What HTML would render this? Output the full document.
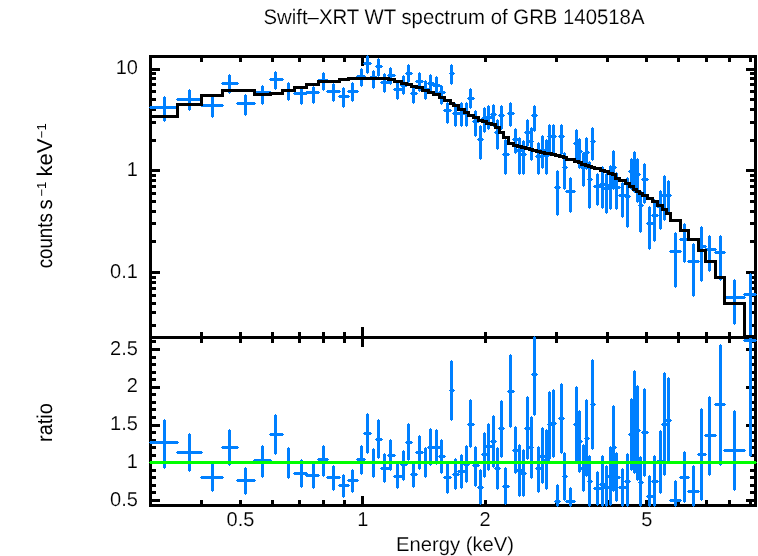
<!DOCTYPE html>
<html lang="en"><head><meta charset="utf-8"><title>Swift-XRT WT spectrum of GRB 140518A</title>
<style>
html,body{margin:0;padding:0;background:#fff;}
svg{display:block;}
text{font-family:"Liberation Sans",Arial,Helvetica,sans-serif;font-size:20px;fill:#000;stroke:#fff;stroke-width:0.15px;text-rendering:geometricPrecision;}
text.v{stroke:none;}
text.vs{stroke:none;}
</style></head><body>
<svg width="758" height="556" viewBox="0 0 758 556">
<rect x="0" y="0" width="758" height="556" fill="#fff"/>
<g shape-rendering="crispEdges">
<rect x="149" y="55" width="3" height="452" fill="#000"/>
<rect x="754" y="55" width="3" height="452" fill="#000"/>
<rect x="149" y="55" width="608" height="3" fill="#000"/>
<rect x="149" y="336" width="608" height="3" fill="#000"/>
<rect x="149" y="504" width="608" height="3" fill="#000"/>
<rect x="361" y="58" width="3" height="8" fill="#000"/>
<rect x="361" y="327" width="3" height="20" fill="#000"/>
<rect x="361" y="496" width="3" height="8" fill="#000"/>
<rect x="200" y="58" width="3" height="4" fill="#000"/>
<rect x="200" y="332" width="3" height="11" fill="#000"/>
<rect x="200" y="500" width="3" height="4" fill="#000"/>
<rect x="239" y="58" width="3" height="4" fill="#000"/>
<rect x="239" y="332" width="3" height="11" fill="#000"/>
<rect x="239" y="500" width="3" height="4" fill="#000"/>
<rect x="271" y="58" width="3" height="4" fill="#000"/>
<rect x="271" y="332" width="3" height="11" fill="#000"/>
<rect x="271" y="500" width="3" height="4" fill="#000"/>
<rect x="298" y="58" width="3" height="4" fill="#000"/>
<rect x="298" y="332" width="3" height="11" fill="#000"/>
<rect x="298" y="500" width="3" height="4" fill="#000"/>
<rect x="322" y="58" width="3" height="4" fill="#000"/>
<rect x="322" y="332" width="3" height="11" fill="#000"/>
<rect x="322" y="500" width="3" height="4" fill="#000"/>
<rect x="343" y="58" width="3" height="4" fill="#000"/>
<rect x="343" y="332" width="3" height="11" fill="#000"/>
<rect x="343" y="500" width="3" height="4" fill="#000"/>
<rect x="484" y="58" width="3" height="4" fill="#000"/>
<rect x="484" y="332" width="3" height="11" fill="#000"/>
<rect x="484" y="500" width="3" height="4" fill="#000"/>
<rect x="555" y="58" width="3" height="4" fill="#000"/>
<rect x="555" y="332" width="3" height="11" fill="#000"/>
<rect x="555" y="500" width="3" height="4" fill="#000"/>
<rect x="606" y="58" width="3" height="4" fill="#000"/>
<rect x="606" y="332" width="3" height="11" fill="#000"/>
<rect x="606" y="500" width="3" height="4" fill="#000"/>
<rect x="645" y="58" width="3" height="4" fill="#000"/>
<rect x="645" y="332" width="3" height="11" fill="#000"/>
<rect x="645" y="500" width="3" height="4" fill="#000"/>
<rect x="677" y="58" width="3" height="4" fill="#000"/>
<rect x="677" y="332" width="3" height="11" fill="#000"/>
<rect x="677" y="500" width="3" height="4" fill="#000"/>
<rect x="705" y="58" width="3" height="4" fill="#000"/>
<rect x="705" y="332" width="3" height="11" fill="#000"/>
<rect x="705" y="500" width="3" height="4" fill="#000"/>
<rect x="728" y="58" width="3" height="4" fill="#000"/>
<rect x="728" y="332" width="3" height="11" fill="#000"/>
<rect x="728" y="500" width="3" height="4" fill="#000"/>
<rect x="749" y="58" width="3" height="4" fill="#000"/>
<rect x="749" y="332" width="3" height="11" fill="#000"/>
<rect x="749" y="500" width="3" height="4" fill="#000"/>
<rect x="152" y="324" width="4" height="3" fill="#000"/>
<rect x="750" y="324" width="4" height="3" fill="#000"/>
<rect x="152" y="311" width="4" height="3" fill="#000"/>
<rect x="750" y="311" width="4" height="3" fill="#000"/>
<rect x="152" y="302" width="4" height="3" fill="#000"/>
<rect x="750" y="302" width="4" height="3" fill="#000"/>
<rect x="152" y="294" width="4" height="3" fill="#000"/>
<rect x="750" y="294" width="4" height="3" fill="#000"/>
<rect x="152" y="287" width="4" height="3" fill="#000"/>
<rect x="750" y="287" width="4" height="3" fill="#000"/>
<rect x="152" y="281" width="4" height="3" fill="#000"/>
<rect x="750" y="281" width="4" height="3" fill="#000"/>
<rect x="152" y="276" width="4" height="3" fill="#000"/>
<rect x="750" y="276" width="4" height="3" fill="#000"/>
<rect x="152" y="271" width="8" height="3" fill="#000"/>
<rect x="746" y="271" width="8" height="3" fill="#000"/>
<rect x="152" y="240" width="4" height="3" fill="#000"/>
<rect x="750" y="240" width="4" height="3" fill="#000"/>
<rect x="152" y="222" width="4" height="3" fill="#000"/>
<rect x="750" y="222" width="4" height="3" fill="#000"/>
<rect x="152" y="210" width="4" height="3" fill="#000"/>
<rect x="750" y="210" width="4" height="3" fill="#000"/>
<rect x="152" y="200" width="4" height="3" fill="#000"/>
<rect x="750" y="200" width="4" height="3" fill="#000"/>
<rect x="152" y="192" width="4" height="3" fill="#000"/>
<rect x="750" y="192" width="4" height="3" fill="#000"/>
<rect x="152" y="185" width="4" height="3" fill="#000"/>
<rect x="750" y="185" width="4" height="3" fill="#000"/>
<rect x="152" y="179" width="4" height="3" fill="#000"/>
<rect x="750" y="179" width="4" height="3" fill="#000"/>
<rect x="152" y="174" width="4" height="3" fill="#000"/>
<rect x="750" y="174" width="4" height="3" fill="#000"/>
<rect x="152" y="169" width="8" height="3" fill="#000"/>
<rect x="746" y="169" width="8" height="3" fill="#000"/>
<rect x="152" y="139" width="4" height="3" fill="#000"/>
<rect x="750" y="139" width="4" height="3" fill="#000"/>
<rect x="152" y="121" width="4" height="3" fill="#000"/>
<rect x="750" y="121" width="4" height="3" fill="#000"/>
<rect x="152" y="108" width="4" height="3" fill="#000"/>
<rect x="750" y="108" width="4" height="3" fill="#000"/>
<rect x="152" y="98" width="4" height="3" fill="#000"/>
<rect x="750" y="98" width="4" height="3" fill="#000"/>
<rect x="152" y="90" width="4" height="3" fill="#000"/>
<rect x="750" y="90" width="4" height="3" fill="#000"/>
<rect x="152" y="83" width="4" height="3" fill="#000"/>
<rect x="750" y="83" width="4" height="3" fill="#000"/>
<rect x="152" y="77" width="4" height="3" fill="#000"/>
<rect x="750" y="77" width="4" height="3" fill="#000"/>
<rect x="152" y="72" width="4" height="3" fill="#000"/>
<rect x="750" y="72" width="4" height="3" fill="#000"/>
<rect x="152" y="68" width="8" height="3" fill="#000"/>
<rect x="746" y="68" width="8" height="3" fill="#000"/>
<rect x="152" y="499" width="8" height="3" fill="#000"/>
<rect x="746" y="499" width="8" height="3" fill="#000"/>
<rect x="152" y="491" width="4" height="3" fill="#000"/>
<rect x="750" y="491" width="4" height="3" fill="#000"/>
<rect x="152" y="484" width="4" height="3" fill="#000"/>
<rect x="750" y="484" width="4" height="3" fill="#000"/>
<rect x="152" y="476" width="4" height="3" fill="#000"/>
<rect x="750" y="476" width="4" height="3" fill="#000"/>
<rect x="152" y="469" width="4" height="3" fill="#000"/>
<rect x="750" y="469" width="4" height="3" fill="#000"/>
<rect x="152" y="461" width="8" height="3" fill="#000"/>
<rect x="746" y="461" width="8" height="3" fill="#000"/>
<rect x="152" y="454" width="4" height="3" fill="#000"/>
<rect x="750" y="454" width="4" height="3" fill="#000"/>
<rect x="152" y="446" width="4" height="3" fill="#000"/>
<rect x="750" y="446" width="4" height="3" fill="#000"/>
<rect x="152" y="439" width="4" height="3" fill="#000"/>
<rect x="750" y="439" width="4" height="3" fill="#000"/>
<rect x="152" y="431" width="4" height="3" fill="#000"/>
<rect x="750" y="431" width="4" height="3" fill="#000"/>
<rect x="152" y="424" width="8" height="3" fill="#000"/>
<rect x="746" y="424" width="8" height="3" fill="#000"/>
<rect x="152" y="416" width="4" height="3" fill="#000"/>
<rect x="750" y="416" width="4" height="3" fill="#000"/>
<rect x="152" y="408" width="4" height="3" fill="#000"/>
<rect x="750" y="408" width="4" height="3" fill="#000"/>
<rect x="152" y="401" width="4" height="3" fill="#000"/>
<rect x="750" y="401" width="4" height="3" fill="#000"/>
<rect x="152" y="393" width="4" height="3" fill="#000"/>
<rect x="750" y="393" width="4" height="3" fill="#000"/>
<rect x="152" y="386" width="8" height="3" fill="#000"/>
<rect x="746" y="386" width="8" height="3" fill="#000"/>
<rect x="152" y="378" width="4" height="3" fill="#000"/>
<rect x="750" y="378" width="4" height="3" fill="#000"/>
<rect x="152" y="371" width="4" height="3" fill="#000"/>
<rect x="750" y="371" width="4" height="3" fill="#000"/>
<rect x="152" y="363" width="4" height="3" fill="#000"/>
<rect x="750" y="363" width="4" height="3" fill="#000"/>
<rect x="152" y="356" width="4" height="3" fill="#000"/>
<rect x="750" y="356" width="4" height="3" fill="#000"/>
<rect x="152" y="348" width="8" height="3" fill="#000"/>
<rect x="746" y="348" width="8" height="3" fill="#000"/>
<rect x="152" y="340" width="4" height="3" fill="#000"/>
<rect x="750" y="340" width="4" height="3" fill="#000"/>
<rect x="150" y="106" width="28" height="3" fill="#0080ff"/>
<rect x="149" y="107" width="30" height="1" fill="#0080ff"/>
<rect x="163" y="97" width="3" height="24" fill="#0080ff"/>
<rect x="164" y="96" width="1" height="26" fill="#0080ff"/>
<rect x="177" y="98" width="25" height="3" fill="#0080ff"/>
<rect x="176" y="99" width="27" height="1" fill="#0080ff"/>
<rect x="188" y="90" width="3" height="20" fill="#0080ff"/>
<rect x="189" y="89" width="1" height="22" fill="#0080ff"/>
<rect x="201" y="104" width="22" height="3" fill="#0080ff"/>
<rect x="200" y="105" width="24" height="1" fill="#0080ff"/>
<rect x="211" y="97" width="3" height="20" fill="#0080ff"/>
<rect x="212" y="96" width="1" height="22" fill="#0080ff"/>
<rect x="222" y="82" width="16" height="3" fill="#0080ff"/>
<rect x="221" y="83" width="18" height="1" fill="#0080ff"/>
<rect x="228" y="75" width="3" height="18" fill="#0080ff"/>
<rect x="229" y="74" width="1" height="20" fill="#0080ff"/>
<rect x="237" y="102" width="18" height="3" fill="#0080ff"/>
<rect x="236" y="103" width="20" height="1" fill="#0080ff"/>
<rect x="244" y="95" width="3" height="20" fill="#0080ff"/>
<rect x="245" y="94" width="1" height="22" fill="#0080ff"/>
<rect x="254" y="91" width="17" height="3" fill="#0080ff"/>
<rect x="253" y="92" width="19" height="1" fill="#0080ff"/>
<rect x="261" y="86" width="3" height="18" fill="#0080ff"/>
<rect x="262" y="85" width="1" height="20" fill="#0080ff"/>
<rect x="270" y="78" width="13" height="3" fill="#0080ff"/>
<rect x="269" y="79" width="15" height="1" fill="#0080ff"/>
<rect x="274" y="72" width="3" height="17" fill="#0080ff"/>
<rect x="275" y="71" width="1" height="19" fill="#0080ff"/>
<rect x="282" y="89" width="13" height="3" fill="#0080ff"/>
<rect x="281" y="90" width="15" height="1" fill="#0080ff"/>
<rect x="287" y="83" width="3" height="17" fill="#0080ff"/>
<rect x="288" y="82" width="1" height="19" fill="#0080ff"/>
<rect x="294" y="92" width="13" height="3" fill="#0080ff"/>
<rect x="293" y="93" width="15" height="1" fill="#0080ff"/>
<rect x="300" y="87" width="3" height="17" fill="#0080ff"/>
<rect x="301" y="86" width="1" height="19" fill="#0080ff"/>
<rect x="306" y="91" width="13" height="3" fill="#0080ff"/>
<rect x="305" y="92" width="15" height="1" fill="#0080ff"/>
<rect x="312" y="87" width="3" height="16" fill="#0080ff"/>
<rect x="313" y="86" width="1" height="18" fill="#0080ff"/>
<rect x="318" y="79" width="10" height="3" fill="#0080ff"/>
<rect x="317" y="80" width="12" height="1" fill="#0080ff"/>
<rect x="322" y="73" width="3" height="17" fill="#0080ff"/>
<rect x="323" y="72" width="1" height="19" fill="#0080ff"/>
<rect x="327" y="90" width="13" height="3" fill="#0080ff"/>
<rect x="326" y="91" width="15" height="1" fill="#0080ff"/>
<rect x="332" y="84" width="3" height="17" fill="#0080ff"/>
<rect x="333" y="83" width="1" height="19" fill="#0080ff"/>
<rect x="339" y="95" width="10" height="3" fill="#0080ff"/>
<rect x="338" y="96" width="12" height="1" fill="#0080ff"/>
<rect x="342" y="88" width="3" height="19" fill="#0080ff"/>
<rect x="343" y="87" width="1" height="21" fill="#0080ff"/>
<rect x="348" y="90" width="10" height="3" fill="#0080ff"/>
<rect x="347" y="91" width="12" height="1" fill="#0080ff"/>
<rect x="351" y="83" width="3" height="18" fill="#0080ff"/>
<rect x="352" y="82" width="1" height="20" fill="#0080ff"/>
<rect x="357" y="75" width="8" height="3" fill="#0080ff"/>
<rect x="356" y="76" width="10" height="1" fill="#0080ff"/>
<rect x="360" y="69" width="3" height="17" fill="#0080ff"/>
<rect x="361" y="68" width="1" height="19" fill="#0080ff"/>
<rect x="364" y="62" width="7" height="3" fill="#0080ff"/>
<rect x="363" y="63" width="9" height="1" fill="#0080ff"/>
<rect x="366" y="56" width="3" height="17" fill="#0080ff"/>
<rect x="367" y="55" width="1" height="19" fill="#0080ff"/>
<rect x="370" y="76" width="7" height="3" fill="#0080ff"/>
<rect x="369" y="77" width="9" height="1" fill="#0080ff"/>
<rect x="372" y="71" width="3" height="17" fill="#0080ff"/>
<rect x="373" y="70" width="1" height="19" fill="#0080ff"/>
<rect x="376" y="65" width="6" height="3" fill="#0080ff"/>
<rect x="375" y="66" width="8" height="1" fill="#0080ff"/>
<rect x="377" y="59" width="3" height="17" fill="#0080ff"/>
<rect x="378" y="58" width="1" height="19" fill="#0080ff"/>
<rect x="381" y="81" width="8" height="3" fill="#0080ff"/>
<rect x="380" y="82" width="10" height="1" fill="#0080ff"/>
<rect x="383" y="74" width="3" height="18" fill="#0080ff"/>
<rect x="384" y="73" width="1" height="20" fill="#0080ff"/>
<rect x="388" y="74" width="7" height="3" fill="#0080ff"/>
<rect x="387" y="75" width="9" height="1" fill="#0080ff"/>
<rect x="389" y="68" width="3" height="16" fill="#0080ff"/>
<rect x="390" y="67" width="1" height="18" fill="#0080ff"/>
<rect x="394" y="88" width="8" height="3" fill="#0080ff"/>
<rect x="393" y="89" width="10" height="1" fill="#0080ff"/>
<rect x="396" y="83" width="3" height="16" fill="#0080ff"/>
<rect x="397" y="82" width="1" height="18" fill="#0080ff"/>
<rect x="401" y="84" width="6" height="3" fill="#0080ff"/>
<rect x="400" y="85" width="8" height="1" fill="#0080ff"/>
<rect x="402" y="76" width="3" height="18" fill="#0080ff"/>
<rect x="403" y="75" width="1" height="20" fill="#0080ff"/>
<rect x="406" y="72" width="6" height="3" fill="#0080ff"/>
<rect x="405" y="73" width="8" height="1" fill="#0080ff"/>
<rect x="407" y="65" width="3" height="17" fill="#0080ff"/>
<rect x="408" y="64" width="1" height="19" fill="#0080ff"/>
<rect x="411" y="92" width="6" height="3" fill="#0080ff"/>
<rect x="410" y="93" width="8" height="1" fill="#0080ff"/>
<rect x="412" y="87" width="3" height="16" fill="#0080ff"/>
<rect x="413" y="86" width="1" height="18" fill="#0080ff"/>
<rect x="416" y="80" width="7" height="3" fill="#0080ff"/>
<rect x="415" y="81" width="9" height="1" fill="#0080ff"/>
<rect x="418" y="73" width="3" height="18" fill="#0080ff"/>
<rect x="419" y="72" width="1" height="20" fill="#0080ff"/>
<rect x="422" y="88" width="7" height="3" fill="#0080ff"/>
<rect x="421" y="89" width="9" height="1" fill="#0080ff"/>
<rect x="424" y="81" width="3" height="18" fill="#0080ff"/>
<rect x="425" y="80" width="1" height="20" fill="#0080ff"/>
<rect x="428" y="82" width="6" height="3" fill="#0080ff"/>
<rect x="427" y="83" width="8" height="1" fill="#0080ff"/>
<rect x="429" y="75" width="3" height="17" fill="#0080ff"/>
<rect x="430" y="74" width="1" height="19" fill="#0080ff"/>
<rect x="433" y="84" width="7" height="3" fill="#0080ff"/>
<rect x="432" y="85" width="9" height="1" fill="#0080ff"/>
<rect x="435" y="77" width="3" height="17" fill="#0080ff"/>
<rect x="436" y="76" width="1" height="19" fill="#0080ff"/>
<rect x="439" y="91" width="6" height="3" fill="#0080ff"/>
<rect x="438" y="92" width="8" height="1" fill="#0080ff"/>
<rect x="440" y="86" width="3" height="18" fill="#0080ff"/>
<rect x="441" y="85" width="1" height="20" fill="#0080ff"/>
<rect x="444" y="109" width="7" height="3" fill="#0080ff"/>
<rect x="443" y="110" width="9" height="1" fill="#0080ff"/>
<rect x="446" y="103" width="3" height="20" fill="#0080ff"/>
<rect x="447" y="102" width="1" height="22" fill="#0080ff"/>
<rect x="450" y="72" width="4" height="3" fill="#0080ff"/>
<rect x="449" y="73" width="6" height="1" fill="#0080ff"/>
<rect x="450" y="65" width="3" height="19" fill="#0080ff"/>
<rect x="451" y="64" width="1" height="21" fill="#0080ff"/>
<rect x="453" y="112" width="6" height="3" fill="#0080ff"/>
<rect x="452" y="113" width="8" height="1" fill="#0080ff"/>
<rect x="454" y="104" width="3" height="22" fill="#0080ff"/>
<rect x="455" y="103" width="1" height="24" fill="#0080ff"/>
<rect x="458" y="112" width="7" height="3" fill="#0080ff"/>
<rect x="457" y="113" width="9" height="1" fill="#0080ff"/>
<rect x="460" y="103" width="3" height="23" fill="#0080ff"/>
<rect x="461" y="102" width="1" height="25" fill="#0080ff"/>
<rect x="464" y="112" width="5" height="3" fill="#0080ff"/>
<rect x="463" y="113" width="7" height="1" fill="#0080ff"/>
<rect x="465" y="103" width="3" height="23" fill="#0080ff"/>
<rect x="466" y="102" width="1" height="25" fill="#0080ff"/>
<rect x="468" y="97" width="6" height="3" fill="#0080ff"/>
<rect x="467" y="98" width="8" height="1" fill="#0080ff"/>
<rect x="469" y="89" width="3" height="19" fill="#0080ff"/>
<rect x="470" y="88" width="1" height="21" fill="#0080ff"/>
<rect x="473" y="120" width="6" height="3" fill="#0080ff"/>
<rect x="472" y="121" width="8" height="1" fill="#0080ff"/>
<rect x="474" y="111" width="3" height="25" fill="#0080ff"/>
<rect x="475" y="110" width="1" height="27" fill="#0080ff"/>
<rect x="478" y="138" width="5" height="3" fill="#0080ff"/>
<rect x="477" y="139" width="7" height="1" fill="#0080ff"/>
<rect x="479" y="126" width="3" height="33" fill="#0080ff"/>
<rect x="480" y="125" width="1" height="35" fill="#0080ff"/>
<rect x="482" y="117" width="5" height="3" fill="#0080ff"/>
<rect x="481" y="118" width="7" height="1" fill="#0080ff"/>
<rect x="483" y="108" width="3" height="24" fill="#0080ff"/>
<rect x="484" y="107" width="1" height="26" fill="#0080ff"/>
<rect x="486" y="116" width="6" height="3" fill="#0080ff"/>
<rect x="485" y="117" width="8" height="1" fill="#0080ff"/>
<rect x="487" y="106" width="3" height="23" fill="#0080ff"/>
<rect x="488" y="105" width="1" height="25" fill="#0080ff"/>
<rect x="491" y="113" width="5" height="3" fill="#0080ff"/>
<rect x="490" y="114" width="7" height="1" fill="#0080ff"/>
<rect x="492" y="105" width="3" height="21" fill="#0080ff"/>
<rect x="493" y="104" width="1" height="23" fill="#0080ff"/>
<rect x="495" y="131" width="5" height="3" fill="#0080ff"/>
<rect x="494" y="132" width="7" height="1" fill="#0080ff"/>
<rect x="496" y="120" width="3" height="29" fill="#0080ff"/>
<rect x="497" y="119" width="1" height="31" fill="#0080ff"/>
<rect x="499" y="114" width="5" height="3" fill="#0080ff"/>
<rect x="498" y="115" width="7" height="1" fill="#0080ff"/>
<rect x="500" y="106" width="3" height="23" fill="#0080ff"/>
<rect x="501" y="105" width="1" height="25" fill="#0080ff"/>
<rect x="503" y="153" width="6" height="3" fill="#0080ff"/>
<rect x="502" y="154" width="8" height="1" fill="#0080ff"/>
<rect x="504" y="140" width="3" height="34" fill="#0080ff"/>
<rect x="505" y="139" width="1" height="36" fill="#0080ff"/>
<rect x="508" y="112" width="6" height="3" fill="#0080ff"/>
<rect x="507" y="113" width="8" height="1" fill="#0080ff"/>
<rect x="509" y="103" width="3" height="23" fill="#0080ff"/>
<rect x="510" y="102" width="1" height="25" fill="#0080ff"/>
<rect x="513" y="138" width="5" height="3" fill="#0080ff"/>
<rect x="512" y="139" width="7" height="1" fill="#0080ff"/>
<rect x="514" y="129" width="3" height="24" fill="#0080ff"/>
<rect x="515" y="128" width="1" height="26" fill="#0080ff"/>
<rect x="517" y="149" width="5" height="3" fill="#0080ff"/>
<rect x="516" y="150" width="7" height="1" fill="#0080ff"/>
<rect x="518" y="138" width="3" height="36" fill="#0080ff"/>
<rect x="519" y="137" width="1" height="38" fill="#0080ff"/>
<rect x="521" y="153" width="5" height="3" fill="#0080ff"/>
<rect x="520" y="154" width="7" height="1" fill="#0080ff"/>
<rect x="522" y="141" width="3" height="33" fill="#0080ff"/>
<rect x="523" y="140" width="1" height="35" fill="#0080ff"/>
<rect x="525" y="131" width="5" height="3" fill="#0080ff"/>
<rect x="524" y="132" width="7" height="1" fill="#0080ff"/>
<rect x="526" y="120" width="3" height="26" fill="#0080ff"/>
<rect x="527" y="119" width="1" height="28" fill="#0080ff"/>
<rect x="529" y="140" width="4" height="3" fill="#0080ff"/>
<rect x="528" y="141" width="6" height="1" fill="#0080ff"/>
<rect x="530" y="128" width="3" height="32" fill="#0080ff"/>
<rect x="531" y="127" width="1" height="34" fill="#0080ff"/>
<rect x="532" y="114" width="5" height="3" fill="#0080ff"/>
<rect x="531" y="115" width="7" height="1" fill="#0080ff"/>
<rect x="533" y="106" width="3" height="25" fill="#0080ff"/>
<rect x="534" y="105" width="1" height="27" fill="#0080ff"/>
<rect x="536" y="155" width="5" height="3" fill="#0080ff"/>
<rect x="535" y="156" width="7" height="1" fill="#0080ff"/>
<rect x="537" y="143" width="3" height="31" fill="#0080ff"/>
<rect x="538" y="142" width="1" height="33" fill="#0080ff"/>
<rect x="540" y="149" width="5" height="3" fill="#0080ff"/>
<rect x="539" y="150" width="7" height="1" fill="#0080ff"/>
<rect x="541" y="136" width="3" height="32" fill="#0080ff"/>
<rect x="542" y="135" width="1" height="34" fill="#0080ff"/>
<rect x="544" y="154" width="5" height="3" fill="#0080ff"/>
<rect x="543" y="155" width="7" height="1" fill="#0080ff"/>
<rect x="545" y="140" width="3" height="34" fill="#0080ff"/>
<rect x="546" y="139" width="1" height="36" fill="#0080ff"/>
<rect x="548" y="135" width="4" height="3" fill="#0080ff"/>
<rect x="547" y="136" width="6" height="1" fill="#0080ff"/>
<rect x="548" y="125" width="3" height="30" fill="#0080ff"/>
<rect x="549" y="124" width="1" height="32" fill="#0080ff"/>
<rect x="551" y="135" width="5" height="3" fill="#0080ff"/>
<rect x="550" y="136" width="7" height="1" fill="#0080ff"/>
<rect x="552" y="125" width="3" height="29" fill="#0080ff"/>
<rect x="553" y="124" width="1" height="31" fill="#0080ff"/>
<rect x="555" y="186" width="5" height="3" fill="#0080ff"/>
<rect x="554" y="187" width="7" height="1" fill="#0080ff"/>
<rect x="556" y="171" width="3" height="44" fill="#0080ff"/>
<rect x="557" y="170" width="1" height="46" fill="#0080ff"/>
<rect x="559" y="135" width="5" height="3" fill="#0080ff"/>
<rect x="558" y="136" width="7" height="1" fill="#0080ff"/>
<rect x="560" y="125" width="3" height="29" fill="#0080ff"/>
<rect x="561" y="124" width="1" height="31" fill="#0080ff"/>
<rect x="563" y="166" width="4" height="3" fill="#0080ff"/>
<rect x="562" y="167" width="6" height="1" fill="#0080ff"/>
<rect x="563" y="153" width="3" height="36" fill="#0080ff"/>
<rect x="564" y="152" width="1" height="38" fill="#0080ff"/>
<rect x="566" y="190" width="9" height="3" fill="#0080ff"/>
<rect x="565" y="191" width="11" height="1" fill="#0080ff"/>
<rect x="569" y="178" width="3" height="34" fill="#0080ff"/>
<rect x="570" y="177" width="1" height="36" fill="#0080ff"/>
<rect x="574" y="142" width="5" height="3" fill="#0080ff"/>
<rect x="573" y="143" width="7" height="1" fill="#0080ff"/>
<rect x="575" y="130" width="3" height="30" fill="#0080ff"/>
<rect x="576" y="129" width="1" height="32" fill="#0080ff"/>
<rect x="578" y="150" width="4" height="3" fill="#0080ff"/>
<rect x="577" y="151" width="6" height="1" fill="#0080ff"/>
<rect x="578" y="139" width="3" height="29" fill="#0080ff"/>
<rect x="579" y="138" width="1" height="31" fill="#0080ff"/>
<rect x="581" y="166" width="5" height="3" fill="#0080ff"/>
<rect x="580" y="167" width="7" height="1" fill="#0080ff"/>
<rect x="582" y="153" width="3" height="33" fill="#0080ff"/>
<rect x="583" y="152" width="1" height="35" fill="#0080ff"/>
<rect x="585" y="151" width="4" height="3" fill="#0080ff"/>
<rect x="584" y="152" width="6" height="1" fill="#0080ff"/>
<rect x="585" y="138" width="3" height="31" fill="#0080ff"/>
<rect x="586" y="137" width="1" height="33" fill="#0080ff"/>
<rect x="588" y="178" width="4" height="3" fill="#0080ff"/>
<rect x="587" y="179" width="6" height="1" fill="#0080ff"/>
<rect x="588" y="162" width="3" height="46" fill="#0080ff"/>
<rect x="589" y="161" width="1" height="48" fill="#0080ff"/>
<rect x="591" y="140" width="4" height="3" fill="#0080ff"/>
<rect x="590" y="141" width="6" height="1" fill="#0080ff"/>
<rect x="591" y="128" width="3" height="32" fill="#0080ff"/>
<rect x="592" y="127" width="1" height="34" fill="#0080ff"/>
<rect x="594" y="185" width="7" height="3" fill="#0080ff"/>
<rect x="593" y="186" width="9" height="1" fill="#0080ff"/>
<rect x="596" y="174" width="3" height="31" fill="#0080ff"/>
<rect x="597" y="173" width="1" height="33" fill="#0080ff"/>
<rect x="600" y="183" width="5" height="3" fill="#0080ff"/>
<rect x="599" y="184" width="7" height="1" fill="#0080ff"/>
<rect x="601" y="167" width="3" height="41" fill="#0080ff"/>
<rect x="602" y="166" width="1" height="43" fill="#0080ff"/>
<rect x="604" y="187" width="5" height="3" fill="#0080ff"/>
<rect x="603" y="188" width="7" height="1" fill="#0080ff"/>
<rect x="605" y="174" width="3" height="39" fill="#0080ff"/>
<rect x="606" y="173" width="1" height="41" fill="#0080ff"/>
<rect x="608" y="184" width="5" height="3" fill="#0080ff"/>
<rect x="607" y="185" width="7" height="1" fill="#0080ff"/>
<rect x="609" y="166" width="3" height="43" fill="#0080ff"/>
<rect x="610" y="165" width="1" height="45" fill="#0080ff"/>
<rect x="612" y="166" width="4" height="3" fill="#0080ff"/>
<rect x="611" y="167" width="6" height="1" fill="#0080ff"/>
<rect x="612" y="151" width="3" height="38" fill="#0080ff"/>
<rect x="613" y="150" width="1" height="40" fill="#0080ff"/>
<rect x="615" y="186" width="5" height="3" fill="#0080ff"/>
<rect x="614" y="187" width="7" height="1" fill="#0080ff"/>
<rect x="615" y="173" width="3" height="36" fill="#0080ff"/>
<rect x="616" y="172" width="1" height="38" fill="#0080ff"/>
<rect x="619" y="194" width="7" height="3" fill="#0080ff"/>
<rect x="618" y="195" width="9" height="1" fill="#0080ff"/>
<rect x="621" y="183" width="3" height="34" fill="#0080ff"/>
<rect x="622" y="182" width="1" height="36" fill="#0080ff"/>
<rect x="625" y="195" width="5" height="3" fill="#0080ff"/>
<rect x="624" y="196" width="7" height="1" fill="#0080ff"/>
<rect x="626" y="178" width="3" height="49" fill="#0080ff"/>
<rect x="627" y="177" width="1" height="51" fill="#0080ff"/>
<rect x="629" y="170" width="5" height="3" fill="#0080ff"/>
<rect x="628" y="171" width="7" height="1" fill="#0080ff"/>
<rect x="630" y="159" width="3" height="30" fill="#0080ff"/>
<rect x="631" y="158" width="1" height="32" fill="#0080ff"/>
<rect x="633" y="170" width="4" height="3" fill="#0080ff"/>
<rect x="632" y="171" width="6" height="1" fill="#0080ff"/>
<rect x="633" y="152" width="3" height="40" fill="#0080ff"/>
<rect x="634" y="151" width="1" height="42" fill="#0080ff"/>
<rect x="636" y="173" width="4" height="3" fill="#0080ff"/>
<rect x="635" y="174" width="6" height="1" fill="#0080ff"/>
<rect x="636" y="159" width="3" height="43" fill="#0080ff"/>
<rect x="637" y="158" width="1" height="45" fill="#0080ff"/>
<rect x="639" y="204" width="4" height="3" fill="#0080ff"/>
<rect x="638" y="205" width="6" height="1" fill="#0080ff"/>
<rect x="639" y="191" width="3" height="41" fill="#0080ff"/>
<rect x="640" y="190" width="1" height="43" fill="#0080ff"/>
<rect x="642" y="178" width="6" height="3" fill="#0080ff"/>
<rect x="641" y="179" width="8" height="1" fill="#0080ff"/>
<rect x="643" y="164" width="3" height="39" fill="#0080ff"/>
<rect x="644" y="163" width="1" height="41" fill="#0080ff"/>
<rect x="647" y="222" width="6" height="3" fill="#0080ff"/>
<rect x="646" y="223" width="8" height="1" fill="#0080ff"/>
<rect x="648" y="207" width="3" height="42" fill="#0080ff"/>
<rect x="649" y="206" width="1" height="44" fill="#0080ff"/>
<rect x="652" y="214" width="6" height="3" fill="#0080ff"/>
<rect x="651" y="215" width="8" height="1" fill="#0080ff"/>
<rect x="653" y="200" width="3" height="41" fill="#0080ff"/>
<rect x="654" y="199" width="1" height="43" fill="#0080ff"/>
<rect x="657" y="205" width="6" height="3" fill="#0080ff"/>
<rect x="656" y="206" width="8" height="1" fill="#0080ff"/>
<rect x="659" y="191" width="3" height="38" fill="#0080ff"/>
<rect x="660" y="190" width="1" height="40" fill="#0080ff"/>
<rect x="662" y="194" width="5" height="3" fill="#0080ff"/>
<rect x="661" y="195" width="7" height="1" fill="#0080ff"/>
<rect x="663" y="176" width="3" height="44" fill="#0080ff"/>
<rect x="664" y="175" width="1" height="46" fill="#0080ff"/>
<rect x="666" y="194" width="5" height="3" fill="#0080ff"/>
<rect x="665" y="195" width="7" height="1" fill="#0080ff"/>
<rect x="667" y="181" width="3" height="32" fill="#0080ff"/>
<rect x="668" y="180" width="1" height="34" fill="#0080ff"/>
<rect x="670" y="250" width="11" height="3" fill="#0080ff"/>
<rect x="669" y="251" width="13" height="1" fill="#0080ff"/>
<rect x="674" y="233" width="3" height="54" fill="#0080ff"/>
<rect x="675" y="232" width="1" height="56" fill="#0080ff"/>
<rect x="680" y="238" width="9" height="3" fill="#0080ff"/>
<rect x="679" y="239" width="11" height="1" fill="#0080ff"/>
<rect x="683" y="224" width="3" height="38" fill="#0080ff"/>
<rect x="684" y="223" width="1" height="40" fill="#0080ff"/>
<rect x="688" y="260" width="11" height="3" fill="#0080ff"/>
<rect x="687" y="261" width="13" height="1" fill="#0080ff"/>
<rect x="692" y="244" width="3" height="52" fill="#0080ff"/>
<rect x="693" y="243" width="1" height="54" fill="#0080ff"/>
<rect x="698" y="245" width="8" height="3" fill="#0080ff"/>
<rect x="697" y="246" width="10" height="1" fill="#0080ff"/>
<rect x="700" y="227" width="3" height="54" fill="#0080ff"/>
<rect x="701" y="226" width="1" height="56" fill="#0080ff"/>
<rect x="705" y="248" width="11" height="3" fill="#0080ff"/>
<rect x="704" y="249" width="13" height="1" fill="#0080ff"/>
<rect x="708" y="236" width="3" height="35" fill="#0080ff"/>
<rect x="709" y="235" width="1" height="37" fill="#0080ff"/>
<rect x="715" y="251" width="10" height="3" fill="#0080ff"/>
<rect x="714" y="252" width="12" height="1" fill="#0080ff"/>
<rect x="719" y="236" width="3" height="44" fill="#0080ff"/>
<rect x="720" y="235" width="1" height="46" fill="#0080ff"/>
<rect x="724" y="296" width="21" height="3" fill="#0080ff"/>
<rect x="723" y="297" width="23" height="1" fill="#0080ff"/>
<rect x="733" y="280" width="3" height="44" fill="#0080ff"/>
<rect x="734" y="279" width="1" height="46" fill="#0080ff"/>
<rect x="744" y="293" width="12" height="3" fill="#0080ff"/>
<rect x="743" y="294" width="14" height="1" fill="#0080ff"/>
<rect x="749" y="274" width="3" height="64" fill="#0080ff"/>
<rect x="750" y="273" width="1" height="66" fill="#0080ff"/>
<rect x="150" y="441" width="28" height="3" fill="#0080ff"/>
<rect x="149" y="442" width="30" height="1" fill="#0080ff"/>
<rect x="163" y="420" width="3" height="48" fill="#0080ff"/>
<rect x="164" y="419" width="1" height="50" fill="#0080ff"/>
<rect x="177" y="451" width="25" height="3" fill="#0080ff"/>
<rect x="176" y="452" width="27" height="1" fill="#0080ff"/>
<rect x="188" y="434" width="3" height="37" fill="#0080ff"/>
<rect x="189" y="433" width="1" height="39" fill="#0080ff"/>
<rect x="201" y="476" width="22" height="3" fill="#0080ff"/>
<rect x="200" y="477" width="24" height="1" fill="#0080ff"/>
<rect x="211" y="464" width="3" height="27" fill="#0080ff"/>
<rect x="212" y="463" width="1" height="29" fill="#0080ff"/>
<rect x="222" y="446" width="16" height="3" fill="#0080ff"/>
<rect x="221" y="447" width="18" height="1" fill="#0080ff"/>
<rect x="228" y="430" width="3" height="35" fill="#0080ff"/>
<rect x="229" y="429" width="1" height="37" fill="#0080ff"/>
<rect x="237" y="479" width="18" height="3" fill="#0080ff"/>
<rect x="236" y="480" width="20" height="1" fill="#0080ff"/>
<rect x="244" y="468" width="3" height="26" fill="#0080ff"/>
<rect x="245" y="467" width="1" height="28" fill="#0080ff"/>
<rect x="254" y="459" width="17" height="3" fill="#0080ff"/>
<rect x="253" y="460" width="19" height="1" fill="#0080ff"/>
<rect x="261" y="446" width="3" height="31" fill="#0080ff"/>
<rect x="262" y="445" width="1" height="33" fill="#0080ff"/>
<rect x="270" y="433" width="13" height="3" fill="#0080ff"/>
<rect x="269" y="434" width="15" height="1" fill="#0080ff"/>
<rect x="274" y="415" width="3" height="39" fill="#0080ff"/>
<rect x="275" y="414" width="1" height="41" fill="#0080ff"/>
<rect x="282" y="461" width="13" height="3" fill="#0080ff"/>
<rect x="281" y="462" width="15" height="1" fill="#0080ff"/>
<rect x="287" y="448" width="3" height="30" fill="#0080ff"/>
<rect x="288" y="447" width="1" height="32" fill="#0080ff"/>
<rect x="294" y="472" width="13" height="3" fill="#0080ff"/>
<rect x="293" y="473" width="15" height="1" fill="#0080ff"/>
<rect x="300" y="460" width="3" height="27" fill="#0080ff"/>
<rect x="301" y="459" width="1" height="29" fill="#0080ff"/>
<rect x="306" y="474" width="13" height="3" fill="#0080ff"/>
<rect x="305" y="475" width="15" height="1" fill="#0080ff"/>
<rect x="312" y="464" width="3" height="24" fill="#0080ff"/>
<rect x="313" y="463" width="1" height="26" fill="#0080ff"/>
<rect x="318" y="458" width="10" height="3" fill="#0080ff"/>
<rect x="317" y="459" width="12" height="1" fill="#0080ff"/>
<rect x="322" y="446" width="3" height="30" fill="#0080ff"/>
<rect x="323" y="445" width="1" height="32" fill="#0080ff"/>
<rect x="327" y="476" width="13" height="3" fill="#0080ff"/>
<rect x="326" y="477" width="15" height="1" fill="#0080ff"/>
<rect x="332" y="466" width="3" height="24" fill="#0080ff"/>
<rect x="333" y="465" width="1" height="26" fill="#0080ff"/>
<rect x="339" y="484" width="10" height="3" fill="#0080ff"/>
<rect x="338" y="485" width="12" height="1" fill="#0080ff"/>
<rect x="342" y="475" width="3" height="22" fill="#0080ff"/>
<rect x="343" y="474" width="1" height="24" fill="#0080ff"/>
<rect x="348" y="479" width="10" height="3" fill="#0080ff"/>
<rect x="347" y="480" width="12" height="1" fill="#0080ff"/>
<rect x="351" y="470" width="3" height="22" fill="#0080ff"/>
<rect x="352" y="469" width="1" height="24" fill="#0080ff"/>
<rect x="357" y="458" width="8" height="3" fill="#0080ff"/>
<rect x="356" y="459" width="10" height="1" fill="#0080ff"/>
<rect x="360" y="446" width="3" height="28" fill="#0080ff"/>
<rect x="361" y="445" width="1" height="30" fill="#0080ff"/>
<rect x="364" y="432" width="7" height="3" fill="#0080ff"/>
<rect x="363" y="433" width="9" height="1" fill="#0080ff"/>
<rect x="366" y="414" width="3" height="39" fill="#0080ff"/>
<rect x="367" y="413" width="1" height="41" fill="#0080ff"/>
<rect x="370" y="461" width="7" height="3" fill="#0080ff"/>
<rect x="369" y="462" width="9" height="1" fill="#0080ff"/>
<rect x="372" y="449" width="3" height="28" fill="#0080ff"/>
<rect x="373" y="448" width="1" height="30" fill="#0080ff"/>
<rect x="376" y="438" width="6" height="3" fill="#0080ff"/>
<rect x="375" y="439" width="8" height="1" fill="#0080ff"/>
<rect x="377" y="420" width="3" height="38" fill="#0080ff"/>
<rect x="378" y="419" width="1" height="40" fill="#0080ff"/>
<rect x="381" y="467" width="8" height="3" fill="#0080ff"/>
<rect x="380" y="468" width="10" height="1" fill="#0080ff"/>
<rect x="383" y="454" width="3" height="28" fill="#0080ff"/>
<rect x="384" y="453" width="1" height="30" fill="#0080ff"/>
<rect x="388" y="454" width="7" height="3" fill="#0080ff"/>
<rect x="387" y="455" width="9" height="1" fill="#0080ff"/>
<rect x="389" y="440" width="3" height="30" fill="#0080ff"/>
<rect x="390" y="439" width="1" height="32" fill="#0080ff"/>
<rect x="394" y="475" width="8" height="3" fill="#0080ff"/>
<rect x="393" y="476" width="10" height="1" fill="#0080ff"/>
<rect x="396" y="464" width="3" height="24" fill="#0080ff"/>
<rect x="397" y="463" width="1" height="26" fill="#0080ff"/>
<rect x="401" y="463" width="6" height="3" fill="#0080ff"/>
<rect x="400" y="464" width="8" height="1" fill="#0080ff"/>
<rect x="402" y="451" width="3" height="29" fill="#0080ff"/>
<rect x="403" y="450" width="1" height="31" fill="#0080ff"/>
<rect x="406" y="441" width="6" height="3" fill="#0080ff"/>
<rect x="405" y="442" width="8" height="1" fill="#0080ff"/>
<rect x="407" y="424" width="3" height="36" fill="#0080ff"/>
<rect x="408" y="423" width="1" height="38" fill="#0080ff"/>
<rect x="411" y="473" width="6" height="3" fill="#0080ff"/>
<rect x="410" y="474" width="8" height="1" fill="#0080ff"/>
<rect x="412" y="464" width="3" height="23" fill="#0080ff"/>
<rect x="413" y="463" width="1" height="25" fill="#0080ff"/>
<rect x="416" y="451" width="7" height="3" fill="#0080ff"/>
<rect x="415" y="452" width="9" height="1" fill="#0080ff"/>
<rect x="418" y="436" width="3" height="33" fill="#0080ff"/>
<rect x="419" y="435" width="1" height="35" fill="#0080ff"/>
<rect x="422" y="461" width="7" height="3" fill="#0080ff"/>
<rect x="421" y="462" width="9" height="1" fill="#0080ff"/>
<rect x="424" y="448" width="3" height="29" fill="#0080ff"/>
<rect x="425" y="447" width="1" height="31" fill="#0080ff"/>
<rect x="428" y="446" width="6" height="3" fill="#0080ff"/>
<rect x="427" y="447" width="8" height="1" fill="#0080ff"/>
<rect x="429" y="429" width="3" height="36" fill="#0080ff"/>
<rect x="430" y="428" width="1" height="38" fill="#0080ff"/>
<rect x="433" y="446" width="7" height="3" fill="#0080ff"/>
<rect x="432" y="447" width="9" height="1" fill="#0080ff"/>
<rect x="435" y="430" width="3" height="34" fill="#0080ff"/>
<rect x="436" y="429" width="1" height="36" fill="#0080ff"/>
<rect x="439" y="455" width="6" height="3" fill="#0080ff"/>
<rect x="438" y="456" width="8" height="1" fill="#0080ff"/>
<rect x="440" y="440" width="3" height="33" fill="#0080ff"/>
<rect x="441" y="439" width="1" height="35" fill="#0080ff"/>
<rect x="444" y="476" width="7" height="3" fill="#0080ff"/>
<rect x="443" y="477" width="9" height="1" fill="#0080ff"/>
<rect x="446" y="464" width="3" height="29" fill="#0080ff"/>
<rect x="447" y="463" width="1" height="31" fill="#0080ff"/>
<rect x="450" y="389" width="4" height="3" fill="#0080ff"/>
<rect x="449" y="390" width="6" height="1" fill="#0080ff"/>
<rect x="450" y="361" width="3" height="59" fill="#0080ff"/>
<rect x="451" y="360" width="1" height="61" fill="#0080ff"/>
<rect x="453" y="473" width="6" height="3" fill="#0080ff"/>
<rect x="452" y="474" width="8" height="1" fill="#0080ff"/>
<rect x="454" y="459" width="3" height="30" fill="#0080ff"/>
<rect x="455" y="458" width="1" height="32" fill="#0080ff"/>
<rect x="458" y="470" width="7" height="3" fill="#0080ff"/>
<rect x="457" y="471" width="9" height="1" fill="#0080ff"/>
<rect x="460" y="455" width="3" height="33" fill="#0080ff"/>
<rect x="461" y="454" width="1" height="35" fill="#0080ff"/>
<rect x="464" y="463" width="5" height="3" fill="#0080ff"/>
<rect x="463" y="464" width="7" height="1" fill="#0080ff"/>
<rect x="465" y="446" width="3" height="36" fill="#0080ff"/>
<rect x="466" y="445" width="1" height="38" fill="#0080ff"/>
<rect x="468" y="423" width="6" height="3" fill="#0080ff"/>
<rect x="467" y="424" width="8" height="1" fill="#0080ff"/>
<rect x="469" y="400" width="3" height="47" fill="#0080ff"/>
<rect x="470" y="399" width="1" height="49" fill="#0080ff"/>
<rect x="473" y="464" width="6" height="3" fill="#0080ff"/>
<rect x="472" y="465" width="8" height="1" fill="#0080ff"/>
<rect x="474" y="447" width="3" height="39" fill="#0080ff"/>
<rect x="475" y="446" width="1" height="41" fill="#0080ff"/>
<rect x="478" y="486" width="5" height="3" fill="#0080ff"/>
<rect x="477" y="487" width="7" height="1" fill="#0080ff"/>
<rect x="479" y="470" width="3" height="34" fill="#0080ff"/>
<rect x="480" y="469" width="1" height="36" fill="#0080ff"/>
<rect x="482" y="453" width="5" height="3" fill="#0080ff"/>
<rect x="481" y="454" width="7" height="1" fill="#0080ff"/>
<rect x="483" y="433" width="3" height="44" fill="#0080ff"/>
<rect x="484" y="432" width="1" height="46" fill="#0080ff"/>
<rect x="486" y="445" width="6" height="3" fill="#0080ff"/>
<rect x="485" y="446" width="8" height="1" fill="#0080ff"/>
<rect x="487" y="424" width="3" height="46" fill="#0080ff"/>
<rect x="488" y="423" width="1" height="48" fill="#0080ff"/>
<rect x="491" y="440" width="5" height="3" fill="#0080ff"/>
<rect x="490" y="441" width="7" height="1" fill="#0080ff"/>
<rect x="492" y="416" width="3" height="51" fill="#0080ff"/>
<rect x="493" y="415" width="1" height="53" fill="#0080ff"/>
<rect x="495" y="467" width="5" height="3" fill="#0080ff"/>
<rect x="494" y="468" width="7" height="1" fill="#0080ff"/>
<rect x="496" y="448" width="3" height="41" fill="#0080ff"/>
<rect x="497" y="447" width="1" height="43" fill="#0080ff"/>
<rect x="499" y="427" width="5" height="3" fill="#0080ff"/>
<rect x="498" y="428" width="7" height="1" fill="#0080ff"/>
<rect x="500" y="401" width="3" height="56" fill="#0080ff"/>
<rect x="501" y="400" width="1" height="58" fill="#0080ff"/>
<rect x="503" y="485" width="6" height="3" fill="#0080ff"/>
<rect x="502" y="486" width="8" height="1" fill="#0080ff"/>
<rect x="504" y="468" width="3" height="36" fill="#0080ff"/>
<rect x="505" y="467" width="1" height="38" fill="#0080ff"/>
<rect x="508" y="390" width="6" height="3" fill="#0080ff"/>
<rect x="507" y="391" width="8" height="1" fill="#0080ff"/>
<rect x="509" y="355" width="3" height="72" fill="#0080ff"/>
<rect x="510" y="354" width="1" height="74" fill="#0080ff"/>
<rect x="513" y="449" width="5" height="3" fill="#0080ff"/>
<rect x="512" y="450" width="7" height="1" fill="#0080ff"/>
<rect x="514" y="427" width="3" height="46" fill="#0080ff"/>
<rect x="515" y="426" width="1" height="48" fill="#0080ff"/>
<rect x="517" y="469" width="5" height="3" fill="#0080ff"/>
<rect x="516" y="470" width="7" height="1" fill="#0080ff"/>
<rect x="518" y="445" width="3" height="51" fill="#0080ff"/>
<rect x="519" y="444" width="1" height="53" fill="#0080ff"/>
<rect x="521" y="472" width="5" height="3" fill="#0080ff"/>
<rect x="520" y="473" width="7" height="1" fill="#0080ff"/>
<rect x="522" y="450" width="3" height="46" fill="#0080ff"/>
<rect x="523" y="449" width="1" height="48" fill="#0080ff"/>
<rect x="525" y="427" width="5" height="3" fill="#0080ff"/>
<rect x="524" y="428" width="7" height="1" fill="#0080ff"/>
<rect x="526" y="397" width="3" height="62" fill="#0080ff"/>
<rect x="527" y="396" width="1" height="64" fill="#0080ff"/>
<rect x="529" y="446" width="4" height="3" fill="#0080ff"/>
<rect x="528" y="447" width="6" height="1" fill="#0080ff"/>
<rect x="530" y="417" width="3" height="61" fill="#0080ff"/>
<rect x="531" y="416" width="1" height="63" fill="#0080ff"/>
<rect x="532" y="373" width="5" height="3" fill="#0080ff"/>
<rect x="531" y="374" width="7" height="1" fill="#0080ff"/>
<rect x="533" y="337" width="3" height="78" fill="#0080ff"/>
<rect x="534" y="336" width="1" height="80" fill="#0080ff"/>
<rect x="536" y="467" width="5" height="3" fill="#0080ff"/>
<rect x="535" y="468" width="7" height="1" fill="#0080ff"/>
<rect x="537" y="447" width="3" height="45" fill="#0080ff"/>
<rect x="538" y="446" width="1" height="47" fill="#0080ff"/>
<rect x="540" y="455" width="5" height="3" fill="#0080ff"/>
<rect x="539" y="456" width="7" height="1" fill="#0080ff"/>
<rect x="541" y="428" width="3" height="55" fill="#0080ff"/>
<rect x="542" y="427" width="1" height="57" fill="#0080ff"/>
<rect x="544" y="459" width="5" height="3" fill="#0080ff"/>
<rect x="543" y="460" width="7" height="1" fill="#0080ff"/>
<rect x="545" y="430" width="3" height="59" fill="#0080ff"/>
<rect x="546" y="429" width="1" height="61" fill="#0080ff"/>
<rect x="548" y="423" width="4" height="3" fill="#0080ff"/>
<rect x="547" y="424" width="6" height="1" fill="#0080ff"/>
<rect x="548" y="392" width="3" height="67" fill="#0080ff"/>
<rect x="549" y="391" width="1" height="69" fill="#0080ff"/>
<rect x="551" y="422" width="5" height="3" fill="#0080ff"/>
<rect x="550" y="423" width="7" height="1" fill="#0080ff"/>
<rect x="552" y="390" width="3" height="67" fill="#0080ff"/>
<rect x="553" y="389" width="1" height="69" fill="#0080ff"/>
<rect x="555" y="500" width="5" height="3" fill="#0080ff"/>
<rect x="554" y="501" width="7" height="1" fill="#0080ff"/>
<rect x="556" y="485" width="3" height="21" fill="#0080ff"/>
<rect x="557" y="484" width="1" height="23" fill="#0080ff"/>
<rect x="559" y="417" width="5" height="3" fill="#0080ff"/>
<rect x="558" y="418" width="7" height="1" fill="#0080ff"/>
<rect x="560" y="384" width="3" height="69" fill="#0080ff"/>
<rect x="561" y="383" width="1" height="71" fill="#0080ff"/>
<rect x="563" y="475" width="4" height="3" fill="#0080ff"/>
<rect x="562" y="476" width="6" height="1" fill="#0080ff"/>
<rect x="563" y="453" width="3" height="47" fill="#0080ff"/>
<rect x="564" y="452" width="1" height="49" fill="#0080ff"/>
<rect x="566" y="500" width="9" height="3" fill="#0080ff"/>
<rect x="565" y="501" width="11" height="1" fill="#0080ff"/>
<rect x="569" y="488" width="3" height="18" fill="#0080ff"/>
<rect x="570" y="487" width="1" height="20" fill="#0080ff"/>
<rect x="574" y="423" width="5" height="3" fill="#0080ff"/>
<rect x="573" y="424" width="7" height="1" fill="#0080ff"/>
<rect x="575" y="387" width="3" height="75" fill="#0080ff"/>
<rect x="576" y="386" width="1" height="77" fill="#0080ff"/>
<rect x="578" y="440" width="4" height="3" fill="#0080ff"/>
<rect x="577" y="441" width="6" height="1" fill="#0080ff"/>
<rect x="578" y="411" width="3" height="61" fill="#0080ff"/>
<rect x="579" y="410" width="1" height="63" fill="#0080ff"/>
<rect x="581" y="467" width="5" height="3" fill="#0080ff"/>
<rect x="580" y="468" width="7" height="1" fill="#0080ff"/>
<rect x="582" y="445" width="3" height="46" fill="#0080ff"/>
<rect x="583" y="444" width="1" height="48" fill="#0080ff"/>
<rect x="585" y="437" width="4" height="3" fill="#0080ff"/>
<rect x="584" y="438" width="6" height="1" fill="#0080ff"/>
<rect x="585" y="400" width="3" height="76" fill="#0080ff"/>
<rect x="586" y="399" width="1" height="78" fill="#0080ff"/>
<rect x="588" y="480" width="4" height="3" fill="#0080ff"/>
<rect x="587" y="481" width="6" height="1" fill="#0080ff"/>
<rect x="588" y="456" width="3" height="50" fill="#0080ff"/>
<rect x="589" y="455" width="1" height="52" fill="#0080ff"/>
<rect x="591" y="403" width="4" height="3" fill="#0080ff"/>
<rect x="590" y="404" width="6" height="1" fill="#0080ff"/>
<rect x="591" y="360" width="3" height="89" fill="#0080ff"/>
<rect x="592" y="359" width="1" height="91" fill="#0080ff"/>
<rect x="594" y="487" width="7" height="3" fill="#0080ff"/>
<rect x="593" y="488" width="9" height="1" fill="#0080ff"/>
<rect x="596" y="472" width="3" height="33" fill="#0080ff"/>
<rect x="597" y="471" width="1" height="35" fill="#0080ff"/>
<rect x="600" y="483" width="5" height="3" fill="#0080ff"/>
<rect x="599" y="484" width="7" height="1" fill="#0080ff"/>
<rect x="601" y="456" width="3" height="50" fill="#0080ff"/>
<rect x="602" y="455" width="1" height="52" fill="#0080ff"/>
<rect x="604" y="486" width="5" height="3" fill="#0080ff"/>
<rect x="603" y="487" width="7" height="1" fill="#0080ff"/>
<rect x="605" y="466" width="3" height="40" fill="#0080ff"/>
<rect x="606" y="465" width="1" height="42" fill="#0080ff"/>
<rect x="608" y="475" width="5" height="3" fill="#0080ff"/>
<rect x="607" y="476" width="7" height="1" fill="#0080ff"/>
<rect x="609" y="447" width="3" height="58" fill="#0080ff"/>
<rect x="610" y="446" width="1" height="60" fill="#0080ff"/>
<rect x="612" y="446" width="4" height="3" fill="#0080ff"/>
<rect x="611" y="447" width="6" height="1" fill="#0080ff"/>
<rect x="612" y="406" width="3" height="85" fill="#0080ff"/>
<rect x="613" y="405" width="1" height="87" fill="#0080ff"/>
<rect x="615" y="476" width="5" height="3" fill="#0080ff"/>
<rect x="614" y="477" width="7" height="1" fill="#0080ff"/>
<rect x="615" y="453" width="3" height="48" fill="#0080ff"/>
<rect x="616" y="452" width="1" height="50" fill="#0080ff"/>
<rect x="619" y="486" width="7" height="3" fill="#0080ff"/>
<rect x="618" y="487" width="9" height="1" fill="#0080ff"/>
<rect x="621" y="469" width="3" height="37" fill="#0080ff"/>
<rect x="622" y="468" width="1" height="39" fill="#0080ff"/>
<rect x="625" y="480" width="5" height="3" fill="#0080ff"/>
<rect x="624" y="481" width="7" height="1" fill="#0080ff"/>
<rect x="626" y="454" width="3" height="52" fill="#0080ff"/>
<rect x="627" y="453" width="1" height="54" fill="#0080ff"/>
<rect x="629" y="433" width="5" height="3" fill="#0080ff"/>
<rect x="628" y="434" width="7" height="1" fill="#0080ff"/>
<rect x="630" y="399" width="3" height="71" fill="#0080ff"/>
<rect x="631" y="398" width="1" height="73" fill="#0080ff"/>
<rect x="633" y="432" width="4" height="3" fill="#0080ff"/>
<rect x="632" y="433" width="6" height="1" fill="#0080ff"/>
<rect x="633" y="371" width="3" height="102" fill="#0080ff"/>
<rect x="634" y="370" width="1" height="104" fill="#0080ff"/>
<rect x="636" y="429" width="4" height="3" fill="#0080ff"/>
<rect x="635" y="430" width="6" height="1" fill="#0080ff"/>
<rect x="636" y="386" width="3" height="94" fill="#0080ff"/>
<rect x="637" y="385" width="1" height="96" fill="#0080ff"/>
<rect x="639" y="481" width="4" height="3" fill="#0080ff"/>
<rect x="638" y="482" width="6" height="1" fill="#0080ff"/>
<rect x="639" y="457" width="3" height="49" fill="#0080ff"/>
<rect x="640" y="456" width="1" height="51" fill="#0080ff"/>
<rect x="642" y="431" width="6" height="3" fill="#0080ff"/>
<rect x="641" y="432" width="8" height="1" fill="#0080ff"/>
<rect x="643" y="389" width="3" height="87" fill="#0080ff"/>
<rect x="644" y="388" width="1" height="89" fill="#0080ff"/>
<rect x="647" y="495" width="6" height="3" fill="#0080ff"/>
<rect x="646" y="496" width="8" height="1" fill="#0080ff"/>
<rect x="648" y="476" width="3" height="30" fill="#0080ff"/>
<rect x="649" y="475" width="1" height="32" fill="#0080ff"/>
<rect x="652" y="480" width="6" height="3" fill="#0080ff"/>
<rect x="651" y="481" width="8" height="1" fill="#0080ff"/>
<rect x="653" y="456" width="3" height="50" fill="#0080ff"/>
<rect x="654" y="455" width="1" height="52" fill="#0080ff"/>
<rect x="657" y="460" width="6" height="3" fill="#0080ff"/>
<rect x="656" y="461" width="8" height="1" fill="#0080ff"/>
<rect x="659" y="431" width="3" height="62" fill="#0080ff"/>
<rect x="660" y="430" width="1" height="64" fill="#0080ff"/>
<rect x="662" y="423" width="5" height="3" fill="#0080ff"/>
<rect x="661" y="424" width="7" height="1" fill="#0080ff"/>
<rect x="663" y="373" width="3" height="102" fill="#0080ff"/>
<rect x="664" y="372" width="1" height="104" fill="#0080ff"/>
<rect x="666" y="419" width="5" height="3" fill="#0080ff"/>
<rect x="665" y="420" width="7" height="1" fill="#0080ff"/>
<rect x="667" y="378" width="3" height="83" fill="#0080ff"/>
<rect x="668" y="377" width="1" height="85" fill="#0080ff"/>
<rect x="670" y="499" width="11" height="3" fill="#0080ff"/>
<rect x="669" y="500" width="13" height="1" fill="#0080ff"/>
<rect x="674" y="481" width="3" height="25" fill="#0080ff"/>
<rect x="675" y="480" width="1" height="27" fill="#0080ff"/>
<rect x="680" y="476" width="9" height="3" fill="#0080ff"/>
<rect x="679" y="477" width="11" height="1" fill="#0080ff"/>
<rect x="683" y="452" width="3" height="50" fill="#0080ff"/>
<rect x="684" y="451" width="1" height="52" fill="#0080ff"/>
<rect x="688" y="490" width="11" height="3" fill="#0080ff"/>
<rect x="687" y="491" width="13" height="1" fill="#0080ff"/>
<rect x="692" y="466" width="3" height="40" fill="#0080ff"/>
<rect x="693" y="465" width="1" height="42" fill="#0080ff"/>
<rect x="698" y="453" width="8" height="3" fill="#0080ff"/>
<rect x="697" y="454" width="10" height="1" fill="#0080ff"/>
<rect x="700" y="409" width="3" height="91" fill="#0080ff"/>
<rect x="701" y="408" width="1" height="93" fill="#0080ff"/>
<rect x="705" y="434" width="11" height="3" fill="#0080ff"/>
<rect x="704" y="435" width="13" height="1" fill="#0080ff"/>
<rect x="708" y="397" width="3" height="78" fill="#0080ff"/>
<rect x="709" y="396" width="1" height="80" fill="#0080ff"/>
<rect x="715" y="403" width="10" height="3" fill="#0080ff"/>
<rect x="714" y="404" width="12" height="1" fill="#0080ff"/>
<rect x="719" y="345" width="3" height="120" fill="#0080ff"/>
<rect x="720" y="344" width="1" height="122" fill="#0080ff"/>
<rect x="724" y="449" width="21" height="3" fill="#0080ff"/>
<rect x="723" y="450" width="23" height="1" fill="#0080ff"/>
<rect x="733" y="411" width="3" height="79" fill="#0080ff"/>
<rect x="734" y="410" width="1" height="81" fill="#0080ff"/>
<rect x="744" y="339" width="12" height="3" fill="#0080ff"/>
<rect x="743" y="340" width="14" height="1" fill="#0080ff"/>
<rect x="749" y="337" width="3" height="119" fill="#0080ff"/>
<rect x="750" y="336" width="1" height="121" fill="#0080ff"/>
<rect x="150" y="461" width="606" height="3" fill="#00ff00"/>
<rect x="149" y="462" width="608" height="1" fill="#00ff00"/>
<rect x="149" y="115" width="30" height="3" fill="#000"/>
<rect x="176" y="103" width="3" height="15" fill="#000"/>
<rect x="176" y="103" width="27" height="3" fill="#000"/>
<rect x="200" y="94" width="3" height="12" fill="#000"/>
<rect x="200" y="94" width="24" height="3" fill="#000"/>
<rect x="221" y="89" width="3" height="8" fill="#000"/>
<rect x="221" y="89" width="18" height="3" fill="#000"/>
<rect x="236" y="89" width="20" height="3" fill="#000"/>
<rect x="253" y="89" width="3" height="7" fill="#000"/>
<rect x="253" y="93" width="19" height="3" fill="#000"/>
<rect x="269" y="92" width="3" height="4" fill="#000"/>
<rect x="269" y="92" width="15" height="3" fill="#000"/>
<rect x="281" y="89" width="3" height="6" fill="#000"/>
<rect x="281" y="89" width="15" height="3" fill="#000"/>
<rect x="293" y="86" width="3" height="6" fill="#000"/>
<rect x="293" y="86" width="15" height="3" fill="#000"/>
<rect x="305" y="83" width="3" height="6" fill="#000"/>
<rect x="305" y="83" width="15" height="3" fill="#000"/>
<rect x="317" y="80" width="3" height="6" fill="#000"/>
<rect x="317" y="80" width="12" height="3" fill="#000"/>
<rect x="326" y="80" width="15" height="3" fill="#000"/>
<rect x="338" y="78" width="3" height="5" fill="#000"/>
<rect x="338" y="78" width="12" height="3" fill="#000"/>
<rect x="347" y="77" width="3" height="4" fill="#000"/>
<rect x="347" y="77" width="12" height="3" fill="#000"/>
<rect x="356" y="77" width="10" height="3" fill="#000"/>
<rect x="363" y="77" width="9" height="3" fill="#000"/>
<rect x="369" y="77" width="9" height="3" fill="#000"/>
<rect x="375" y="77" width="8" height="3" fill="#000"/>
<rect x="380" y="77" width="10" height="3" fill="#000"/>
<rect x="387" y="77" width="3" height="4" fill="#000"/>
<rect x="387" y="78" width="9" height="3" fill="#000"/>
<rect x="393" y="78" width="3" height="5" fill="#000"/>
<rect x="393" y="80" width="10" height="3" fill="#000"/>
<rect x="400" y="80" width="3" height="5" fill="#000"/>
<rect x="400" y="82" width="8" height="3" fill="#000"/>
<rect x="405" y="82" width="3" height="4" fill="#000"/>
<rect x="405" y="83" width="8" height="3" fill="#000"/>
<rect x="410" y="83" width="3" height="5" fill="#000"/>
<rect x="410" y="85" width="8" height="3" fill="#000"/>
<rect x="415" y="85" width="3" height="4" fill="#000"/>
<rect x="415" y="86" width="9" height="3" fill="#000"/>
<rect x="421" y="86" width="3" height="6" fill="#000"/>
<rect x="421" y="89" width="9" height="3" fill="#000"/>
<rect x="427" y="89" width="3" height="5" fill="#000"/>
<rect x="427" y="91" width="8" height="3" fill="#000"/>
<rect x="432" y="91" width="3" height="5" fill="#000"/>
<rect x="432" y="93" width="9" height="3" fill="#000"/>
<rect x="438" y="93" width="3" height="6" fill="#000"/>
<rect x="438" y="96" width="8" height="3" fill="#000"/>
<rect x="443" y="96" width="3" height="6" fill="#000"/>
<rect x="443" y="99" width="9" height="3" fill="#000"/>
<rect x="449" y="99" width="3" height="6" fill="#000"/>
<rect x="449" y="102" width="6" height="3" fill="#000"/>
<rect x="452" y="102" width="3" height="5" fill="#000"/>
<rect x="452" y="104" width="8" height="3" fill="#000"/>
<rect x="457" y="104" width="3" height="7" fill="#000"/>
<rect x="457" y="108" width="9" height="3" fill="#000"/>
<rect x="463" y="108" width="3" height="6" fill="#000"/>
<rect x="463" y="111" width="7" height="3" fill="#000"/>
<rect x="467" y="111" width="3" height="6" fill="#000"/>
<rect x="467" y="114" width="8" height="3" fill="#000"/>
<rect x="472" y="114" width="3" height="5" fill="#000"/>
<rect x="472" y="116" width="8" height="3" fill="#000"/>
<rect x="477" y="116" width="3" height="6" fill="#000"/>
<rect x="477" y="119" width="7" height="3" fill="#000"/>
<rect x="481" y="119" width="3" height="4" fill="#000"/>
<rect x="481" y="120" width="7" height="3" fill="#000"/>
<rect x="485" y="120" width="3" height="5" fill="#000"/>
<rect x="485" y="122" width="8" height="3" fill="#000"/>
<rect x="490" y="122" width="3" height="4" fill="#000"/>
<rect x="490" y="123" width="7" height="3" fill="#000"/>
<rect x="494" y="123" width="3" height="6" fill="#000"/>
<rect x="494" y="126" width="7" height="3" fill="#000"/>
<rect x="498" y="126" width="3" height="8" fill="#000"/>
<rect x="498" y="131" width="7" height="3" fill="#000"/>
<rect x="502" y="131" width="3" height="8" fill="#000"/>
<rect x="502" y="136" width="8" height="3" fill="#000"/>
<rect x="507" y="136" width="3" height="9" fill="#000"/>
<rect x="507" y="142" width="8" height="3" fill="#000"/>
<rect x="512" y="142" width="3" height="5" fill="#000"/>
<rect x="512" y="144" width="7" height="3" fill="#000"/>
<rect x="516" y="144" width="3" height="4" fill="#000"/>
<rect x="516" y="145" width="7" height="3" fill="#000"/>
<rect x="520" y="145" width="3" height="4" fill="#000"/>
<rect x="520" y="146" width="7" height="3" fill="#000"/>
<rect x="524" y="146" width="3" height="4" fill="#000"/>
<rect x="524" y="147" width="7" height="3" fill="#000"/>
<rect x="528" y="147" width="3" height="4" fill="#000"/>
<rect x="528" y="148" width="6" height="3" fill="#000"/>
<rect x="531" y="148" width="3" height="4" fill="#000"/>
<rect x="531" y="149" width="7" height="3" fill="#000"/>
<rect x="535" y="149" width="3" height="4" fill="#000"/>
<rect x="535" y="150" width="7" height="3" fill="#000"/>
<rect x="539" y="150" width="3" height="4" fill="#000"/>
<rect x="539" y="151" width="7" height="3" fill="#000"/>
<rect x="543" y="151" width="3" height="4" fill="#000"/>
<rect x="543" y="152" width="7" height="3" fill="#000"/>
<rect x="547" y="152" width="6" height="3" fill="#000"/>
<rect x="550" y="152" width="3" height="4" fill="#000"/>
<rect x="550" y="153" width="7" height="3" fill="#000"/>
<rect x="554" y="153" width="3" height="4" fill="#000"/>
<rect x="554" y="154" width="7" height="3" fill="#000"/>
<rect x="558" y="154" width="3" height="4" fill="#000"/>
<rect x="558" y="155" width="7" height="3" fill="#000"/>
<rect x="562" y="155" width="3" height="4" fill="#000"/>
<rect x="562" y="156" width="6" height="3" fill="#000"/>
<rect x="565" y="156" width="3" height="5" fill="#000"/>
<rect x="565" y="158" width="11" height="3" fill="#000"/>
<rect x="573" y="158" width="3" height="5" fill="#000"/>
<rect x="573" y="160" width="7" height="3" fill="#000"/>
<rect x="577" y="160" width="3" height="4" fill="#000"/>
<rect x="577" y="161" width="6" height="3" fill="#000"/>
<rect x="580" y="161" width="3" height="5" fill="#000"/>
<rect x="580" y="163" width="7" height="3" fill="#000"/>
<rect x="584" y="163" width="3" height="4" fill="#000"/>
<rect x="584" y="164" width="6" height="3" fill="#000"/>
<rect x="587" y="164" width="3" height="4" fill="#000"/>
<rect x="587" y="165" width="6" height="3" fill="#000"/>
<rect x="590" y="165" width="3" height="4" fill="#000"/>
<rect x="590" y="166" width="6" height="3" fill="#000"/>
<rect x="593" y="166" width="3" height="4" fill="#000"/>
<rect x="593" y="167" width="9" height="3" fill="#000"/>
<rect x="599" y="167" width="3" height="5" fill="#000"/>
<rect x="599" y="169" width="7" height="3" fill="#000"/>
<rect x="603" y="169" width="3" height="4" fill="#000"/>
<rect x="603" y="170" width="7" height="3" fill="#000"/>
<rect x="607" y="170" width="3" height="5" fill="#000"/>
<rect x="607" y="172" width="7" height="3" fill="#000"/>
<rect x="611" y="172" width="3" height="4" fill="#000"/>
<rect x="611" y="173" width="6" height="3" fill="#000"/>
<rect x="614" y="173" width="3" height="7" fill="#000"/>
<rect x="614" y="177" width="7" height="3" fill="#000"/>
<rect x="618" y="177" width="3" height="5" fill="#000"/>
<rect x="618" y="179" width="9" height="3" fill="#000"/>
<rect x="624" y="179" width="3" height="6" fill="#000"/>
<rect x="624" y="182" width="7" height="3" fill="#000"/>
<rect x="628" y="182" width="3" height="6" fill="#000"/>
<rect x="628" y="185" width="7" height="3" fill="#000"/>
<rect x="632" y="185" width="3" height="6" fill="#000"/>
<rect x="632" y="188" width="6" height="3" fill="#000"/>
<rect x="635" y="188" width="3" height="5" fill="#000"/>
<rect x="635" y="190" width="6" height="3" fill="#000"/>
<rect x="638" y="190" width="3" height="5" fill="#000"/>
<rect x="638" y="192" width="6" height="3" fill="#000"/>
<rect x="641" y="192" width="3" height="5" fill="#000"/>
<rect x="641" y="194" width="8" height="3" fill="#000"/>
<rect x="646" y="194" width="3" height="6" fill="#000"/>
<rect x="646" y="197" width="8" height="3" fill="#000"/>
<rect x="651" y="197" width="3" height="6" fill="#000"/>
<rect x="651" y="200" width="8" height="3" fill="#000"/>
<rect x="656" y="200" width="3" height="7" fill="#000"/>
<rect x="656" y="204" width="8" height="3" fill="#000"/>
<rect x="661" y="204" width="3" height="7" fill="#000"/>
<rect x="661" y="208" width="7" height="3" fill="#000"/>
<rect x="665" y="208" width="3" height="7" fill="#000"/>
<rect x="665" y="212" width="7" height="3" fill="#000"/>
<rect x="669" y="212" width="3" height="10" fill="#000"/>
<rect x="669" y="219" width="13" height="3" fill="#000"/>
<rect x="679" y="219" width="3" height="13" fill="#000"/>
<rect x="679" y="229" width="11" height="3" fill="#000"/>
<rect x="687" y="229" width="3" height="12" fill="#000"/>
<rect x="687" y="238" width="13" height="3" fill="#000"/>
<rect x="697" y="238" width="3" height="14" fill="#000"/>
<rect x="697" y="249" width="10" height="3" fill="#000"/>
<rect x="704" y="249" width="3" height="14" fill="#000"/>
<rect x="704" y="260" width="13" height="3" fill="#000"/>
<rect x="714" y="260" width="3" height="19" fill="#000"/>
<rect x="714" y="276" width="12" height="3" fill="#000"/>
<rect x="723" y="276" width="3" height="29" fill="#000"/>
<rect x="723" y="302" width="23" height="3" fill="#000"/>
<rect x="743" y="302" width="3" height="36" fill="#000"/>
<rect x="743" y="335" width="14" height="3" fill="#000"/>
</g>
<g style="filter:grayscale(1)">
<text x="454" y="23.8" text-anchor="middle" style="font-size:21px" textLength="381" lengthAdjust="spacingAndGlyphs">Swift–XRT WT spectrum of GRB 140518A</text>
<text x="455" y="550.8" text-anchor="middle" textLength="118" lengthAdjust="spacingAndGlyphs">Energy (keV)</text>
<text x="240.5" y="526.2" text-anchor="middle" >0.5</text>
<text x="362.8" y="526.2" text-anchor="middle" >1</text>
<text x="485.1" y="526.2" text-anchor="middle" >2</text>
<text x="646.7" y="526.2" text-anchor="middle" >5</text>
<text x="137.9" y="74.1" text-anchor="end" >10</text>
<text x="137.9" y="175.8" text-anchor="end" >1</text>
<text x="137.9" y="277.5" text-anchor="end" >0.1</text>
<text x="137.9" y="354.5" text-anchor="end" >2.5</text>
<text x="137.9" y="392.2" text-anchor="end" >2</text>
<text x="137.9" y="430.0" text-anchor="end" >1.5</text>
<text x="137.9" y="467.8" text-anchor="end" >1</text>
<text x="137.9" y="505.5" text-anchor="end" >0.5</text>
<g transform="translate(52.0,0) rotate(-90)">
<text class="v" x="-268.3" y="0" style="font-size:21.5px" textLength="55.1" lengthAdjust="spacingAndGlyphs">counts</text>
<text class="v" x="-209.6" y="0" style="font-size:21.5px" textLength="10.2" lengthAdjust="spacingAndGlyphs">s</text>
<text class="vs" x="-196.6" y="-6" style="font-size:13px" textLength="15.0" lengthAdjust="spacingAndGlyphs">−1</text>
<text class="v" x="-176.6" y="0" style="font-size:21.5px" textLength="38.2" lengthAdjust="spacingAndGlyphs">keV</text>
<text class="vs" x="-138.2" y="-6" style="font-size:13px" textLength="14.8" lengthAdjust="spacingAndGlyphs">−1</text>
<text class="v" x="-442.0" y="0" style="font-size:21.5px" textLength="38.8" lengthAdjust="spacingAndGlyphs">ratio</text>
</g>
</g>
</svg>
</body></html>
